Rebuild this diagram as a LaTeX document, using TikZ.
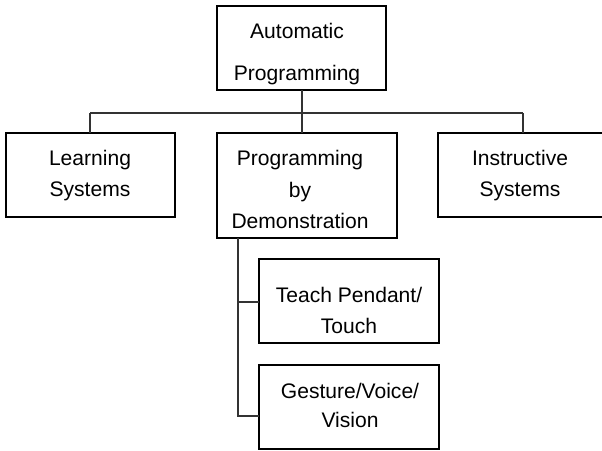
\documentclass[tikz,border=0pt]{standalone}
\usepackage{fontspec}
\setmainfont{Liberation Sans}
\begin{document}
\begin{tikzpicture}[x=0.75pt,y=-0.75pt,
  boxst/.style={draw=black, line width=0.8pt, fill=none},
  linest/.style={draw=black!80, line width=0.8pt},
  txt/.style={inner sep=0pt, align=center, anchor=north, font=\fontsize{15.8}{22.9}\selectfont},
]
\useasboundingbox (0,0) rectangle (602,450);
\clip (0,0) rectangle (602,450);
% boxes
\draw[boxst] (217,6) rectangle (386,90);
\coordinate (topS) at (302,90);
\draw[boxst] (6,133) rectangle (175,217);
\draw[boxst] (217,133) rectangle (397,238);
\draw[boxst] (438,133) rectangle (606,217);
\draw[boxst] (259,259) rectangle (439,343);
\draw[boxst] (259,365) rectangle (439,449);
% named anchors
\coordinate (learnN) at (90,133);
\coordinate (midN) at (302,133);
\coordinate (instrN) at (523,133);
\coordinate (midS) at (238,238);
\coordinate (teachW) at (259,302);
\coordinate (gestW) at (259,416);
\coordinate (busL) at (90,113);
\coordinate (busR) at (523,113);
% texts
\node[txt, font=\fontsize{15.8}{31.5}\selectfont] (ttop) at (297,23) {Automatic\\Programming};
\node[txt] (tlearn) at (90,150) {Learning\\Systems};
\node[txt, font=\fontsize{15.8}{23.6}\selectfont] (tmid) at (300,150) {Programming\\by\\Demonstration};
\node[txt] (tinstr) at (520,150) {Instructive\\Systems};
\node[txt, font=\fontsize{15.8}{23.2}\selectfont] (tteach) at (349,287) {Teach Pendant/\\Touch};
\node[txt, font=\fontsize{15.8}{21.8}\selectfont] (tgest) at (350,383) {Gesture/Voice/\\Vision};
% connectors
\draw[linest] (topS) -- (topS |- busL);
\draw[linest] (busL) -- (busR);
\draw[linest] (busL) -- (learnN);
\draw[linest] (topS |- busL) -- (midN);
\draw[linest] (busR) -- (instrN);
\draw[linest] (midS) -- (midS |- gestW) -- (gestW);
\draw[linest] (midS |- teachW) -- (teachW);
\end{tikzpicture}
\end{document}
